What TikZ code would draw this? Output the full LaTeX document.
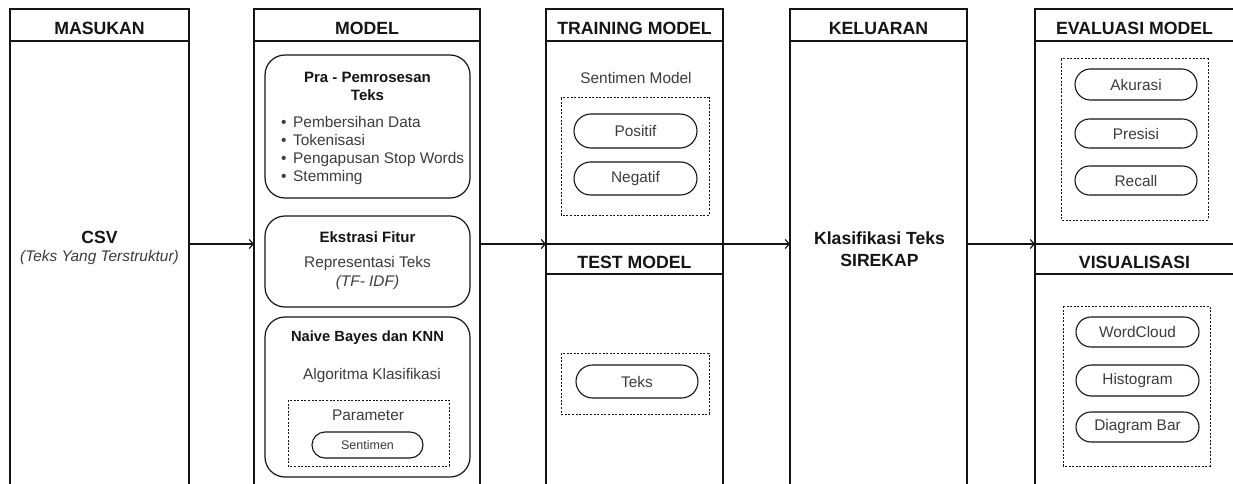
\documentclass[tikz,border=0pt]{standalone}
\usepackage{fontspec}
\setmainfont{Liberation Sans}
\usetikzlibrary{arrows.meta,shapes.misc}

\definecolor{ink}{HTML}{151515}
\definecolor{txt}{HTML}{3C3C3C}

\newcommand\bodyfnt{\fontsize{15.4}{18.2}\selectfont}
\newcommand\subfnt{\fontsize{15}{18}\selectfont\bfseries}

\tikzset{
  frame/.style={draw=ink, line width=1.2pt},
  hdr/.style={draw=ink, line width=1.2pt, rectangle, inner sep=0pt, outer sep=0pt,
    minimum height=32pt, text height=18.7pt, text depth=0pt,
    font=\fontsize{17.7}{20}\selectfont\bfseries, text=ink},
  subhdr/.style={hdr, minimum height=30pt},
  card/.style={draw=ink, line width=1.2pt, rectangle, rounded corners=20pt, inner sep=0pt},
  dotbox/.style={draw=ink, line width=1pt, dash pattern=on 2pt off 1.6pt},
  pill/.style={draw=ink, line width=1.1pt, rounded rectangle, minimum width=122pt,
    minimum height=31pt, inner sep=0pt, font=\bodyfnt, text=txt},
  ttl/.style={font=\subfnt, text=ink, align=center, inner sep=0pt},
  big/.style={font=\fontsize{17.6}{22.5}\selectfont\bfseries, text=ink, align=center, inner sep=0pt},
  body/.style={font=\bodyfnt, text=txt, align=center, inner sep=0pt},
  flow/.style={draw=ink, line width=1.2pt, -{Straight Barb[length=4pt,width=9pt,line width=1.2pt]}},
}

\begin{document}
\begin{tikzpicture}[x=1pt,y=-1pt]
\useasboundingbox (0,0) rectangle (1233,484);
\fill[white] (0,0) rectangle (1233,484);

\coordinate (bot) at (0,484);
\coordinate (mid) at (0,244);

% column headers
\node[hdr, minimum width=179pt] (hMas) at (99.5,25) {MASUKAN};
\node[hdr, minimum width=226pt] (hMod) at (367,25) {MODEL};
\node[hdr, minimum width=177pt] (hTrn) at (634.5,25) {TRAINING MODEL};
\node[hdr, minimum width=177pt] (hKel) at (878.5,25) {KELUARAN};
\node[hdr, minimum width=199pt] (hEva) at (1134.5,25) {EVALUASI MODEL};

% lower sub-headers
\node[subhdr, minimum width=177pt] (hTst) at (634.5,259) {TEST MODEL};
\node[subhdr, minimum width=199pt] (hVis) at (1134.5,259) {VISUALISASI};

% column sides (open at the bottom)
\foreach \h in {hMas,hMod,hTrn,hKel,hEva}{
  \draw[frame] (\h.south west) -- (\h.west |- bot);
  \draw[frame] (\h.south east) -- (\h.east |- bot);
}

% MASUKAN
\node[big] (csv) at (99.5,237) {CSV};
\node[body, font=\bodyfnt\itshape] (csvd) at (99.5,258) {(Teks Yang Terstruktur)};

% MODEL: preprocessing card
\node[card, minimum width=205pt, minimum height=143pt] (pre) at (367.5,126.5) {};
\node[ttl] (preT) at (367.5,86) {Pra - Pemrosesan\\Teks};
\node[body, align=left, anchor=west] (preL) at (280,150.5)
  {\makebox[13pt][l]{\hspace{1pt}\textbullet}Pembersihan Data\\
   \makebox[13pt][l]{\hspace{1pt}\textbullet}Tokenisasi\\
   \makebox[13pt][l]{\hspace{1pt}\textbullet}Pengapusan Stop Words\\
   \makebox[13pt][l]{\hspace{1pt}\textbullet}Stemming};

% MODEL: feature extraction card
\node[card, minimum width=205pt, minimum height=91pt] (ext) at (367.5,261.5) {};
\node[ttl] (extT) at (367.5,237) {Ekstrasi Fitur};
\node[body] (extB) at (367.5,273) {Representasi Teks\\\textit{(TF- IDF)}};

% MODEL: classifier card
\node[card, minimum width=205pt, minimum height=160pt] (nb) at (367.5,397) {};
\node[ttl, font=\fontsize{14.7}{18}\selectfont\bfseries] (nbT) at (367.5,338) {Naive Bayes dan KNN};
\node[body] (nbB) at (372,376) {Algoritma Klasifikasi};
\draw[dotbox] (288,400) rectangle (449,466);
\node[body] (par) at (368,415) {Parameter};
\node[pill, minimum width=111pt, minimum height=26pt, font=\fontsize{12.5}{15}\selectfont] (sen) at (367.5,445) {Sentimen};

% TRAINING MODEL
\node[body] (trnT) at (636,78) {Sentimen Model};
\draw[dotbox] (561,98) rectangle (709,215);
\node[pill, minimum width=123pt, minimum height=34pt] (pos) at (635.5,131) {Positif};
\node[pill, minimum width=123pt, minimum height=33pt] (neg) at (635.5,178.5) {Negatif};

% TEST MODEL
\draw[dotbox] (561,353) rectangle (709,414);
\node[pill, minimum width=122pt, minimum height=33pt] (tks) at (637,381.5) {Teks};

% KELUARAN
\node[big] (out) at (879.5,249) {Klasifikasi Teks\\SIREKAP};

% EVALUASI MODEL
\draw[dotbox] (1061,59) rectangle (1208,220);
\node[pill] (acc) at (1136,84.5) {Akurasi};
\node[pill, minimum height=29pt] (pre2) at (1136,133.5) {Presisi};
\node[pill, minimum height=29pt] (rec) at (1136,180.5) {Recall};

% VISUALISASI
\draw[dotbox] (1063,306) rectangle (1210,466);
\node[pill, minimum width=123pt, minimum height=30pt] (wc) at (1137.5,332) {WordCloud};
\node[pill, minimum width=123pt, minimum height=31pt] (hist) at (1137.5,380.5) {Histogram};
\node[pill, minimum width=123pt, minimum height=30pt] (bar) at (1137.5,427) {Diagram Bar};

% flow between columns
\draw[flow] (hMas.east |- mid) -- (hMod.west |- mid);
\draw[flow] (hMod.east |- mid) -- (hTrn.west |- mid);
\draw[flow] (hTrn.east |- mid) -- (hKel.west |- mid);
\draw[flow] (hKel.east |- mid) -- (hEva.west |- mid);
\end{tikzpicture}
\end{document}
